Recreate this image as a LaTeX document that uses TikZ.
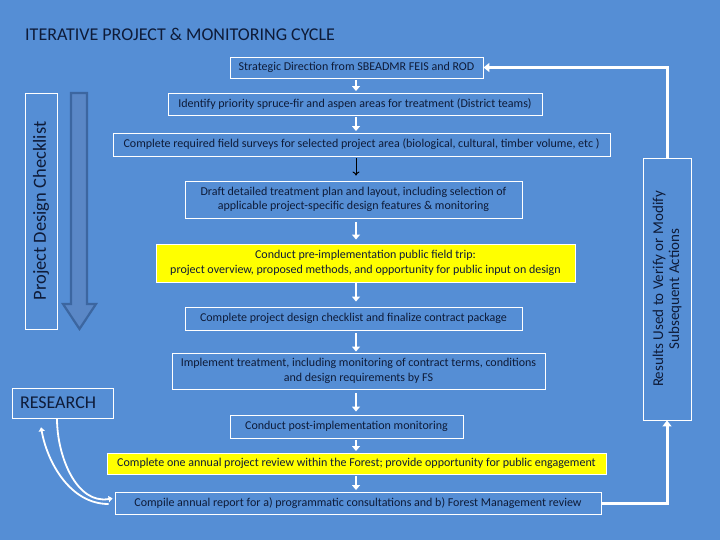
\documentclass[tikz,border=0pt]{standalone}
\usepackage{fontspec}
\setmainfont{Carlito}
\usetikzlibrary{arrows.meta}
\definecolor{bg}{HTML}{558ED5}
\definecolor{txt}{HTML}{0E1B38}
\definecolor{ylw}{HTML}{FFFF00}
\definecolor{bigfill}{HTML}{5A87C6}
\definecolor{bigdraw}{HTML}{3C66A0}
\begin{document}
\begin{tikzpicture}[x=1pt,y=-1pt,
  box/.style={draw=white, line width=0.9pt, text=txt, font=\fontsize{12}{14.5}\selectfont, inner sep=0pt, align=center},
  ybox/.style={box, fill=ylw},
  flow/.style={draw=white, line width=2.5pt, -{Triangle[width=8pt,length=5pt]}, shorten <=1.5pt, shorten >=1.5pt},
  thinflow/.style={draw=black, line width=1pt, -{To[width=7pt,length=4pt]}},
  curv/.style={draw=white, line width=1.8pt, -{Triangle[width=6pt,length=4pt]}},
  fb/.style={draw=white, line width=3pt},
  fbarrow/.style={fb, -{Triangle[width=9pt,length=6pt]}}]
\fill[bg] (0,0) rectangle (720,540);
\useasboundingbox (0,0) rectangle (720,540);
\coordinate (ax) at (356,0);

\node[anchor=west, text=txt, font=\fontsize{18}{21}\selectfont, inner sep=0pt] (title) at (25,34) {ITERATIVE PROJECT \& MONITORING CYCLE};

\node[box, minimum width=253pt, minimum height=21pt] (b1) at (356.5,67.5) {Strategic Direction from SBEADMR FEIS and ROD};
\node[box, minimum width=374pt, minimum height=22pt] (b2) at (355,104) {Identify priority spruce-fir and aspen areas for treatment (District teams)};
\node[box, minimum width=497pt, minimum height=23pt] (b3) at (361.5,144.5) {Complete required field surveys for selected project area (biological, cultural, timber volume, etc )};
\node[box, minimum width=337pt, minimum height=37pt] (b4) at (353.5,199.5) {Draft detailed treatment plan and layout, including selection of\\applicable project-specific design features \& monitoring};
\node[ybox, minimum width=419pt, minimum height=38pt] (b5) at (365.5,263) {Conduct pre-implementation public field trip:\\project overview, proposed methods, and opportunity for public input on design};
\node[box, minimum width=337pt, minimum height=23pt] (b6) at (353.5,318.5) {Complete project design checklist and finalize contract package};
\node[box, minimum width=373pt, minimum height=36pt] (b7) at (358.5,371) {Implement treatment, including monitoring of contract terms, conditions\\and design requirements by FS};
\node[box, minimum width=233pt, minimum height=23pt] (b8) at (346.5,426.5) {Conduct post-implementation monitoring};
\node[ybox, minimum width=499pt, minimum height=21pt] (b9) at (356.5,463.5) {Complete one annual project review within the Forest; provide opportunity for public engagement};
\node[box, minimum width=486pt, minimum height=22pt] (b10) at (358,503) {Compile annual report for a) programmatic consultations and b) Forest Management review};

\node[box, font=\fontsize{18}{21}\selectfont, text width=85pt, inner xsep=8pt, align=left, minimum height=30pt] (res) at (62.5,403) {RESEARCH};

\node[box, font=\fontsize{18.5}{21}\selectfont, rotate=90, minimum width=236pt, minimum height=32pt] (pdc) at (41,211) {Project Design Checklist};
\node[box, font=\fontsize{15}{16}\selectfont, rotate=90, minimum width=262pt, minimum height=48pt] (rv) at (667,289) {Results Used to Verify or Modify\\Subsequent Actions};

% big down arrow
\draw[bigdraw, fill=bigfill, line width=2.2pt, line join=miter] (71,93) -- (87,93) -- (87,304) -- (96,304) -- (79.5,329) -- (63,304) -- (71,304) -- cycle;

% flow arrows
\draw[flow] (b1.south -| ax) -- (b2.north -| ax);
\draw[flow] (b2.south -| ax) -- (b3.north -| ax);
\draw[thinflow, shorten <=2pt, shorten >=5pt] (b3.south -| ax) -- (b4.north -| ax);
\draw[flow, shorten <=4pt, shorten >=4pt] (b4.south -| ax) -- (b5.north -| ax);
\draw[flow, shorten <=1pt, shorten >=5pt] (b5.south -| ax) -- (b6.north -| ax);
\draw[flow, shorten <=3pt, shorten >=1pt] (b6.south -| ax) -- (b7.north -| ax);
\draw[flow, shorten <=4pt, shorten >=3pt] (b7.south -| ax) -- (b8.north -| ax);
\draw[flow] (b8.south -| ax) -- (b9.north -| ax);
\draw[flow] (b9.south -| ax) -- (b10.north -| ax);

% feedback loop
\draw[fbarrow] (b10.east) -| (rv.west);
\draw[fbarrow] (rv.east) |- (b1.east);

% research curves
\draw[curv, shorten >=2pt] ([xshift=-5.5pt]res.south) to[out=-90, in=190] ([yshift=5pt]b10.west);
\draw[curv, shorten <=6pt, shorten >=9pt] ([yshift=-1pt]b10.west) to[out=180, in=-80] ([xshift=-23pt]res.south);
\end{tikzpicture}
\end{document}
